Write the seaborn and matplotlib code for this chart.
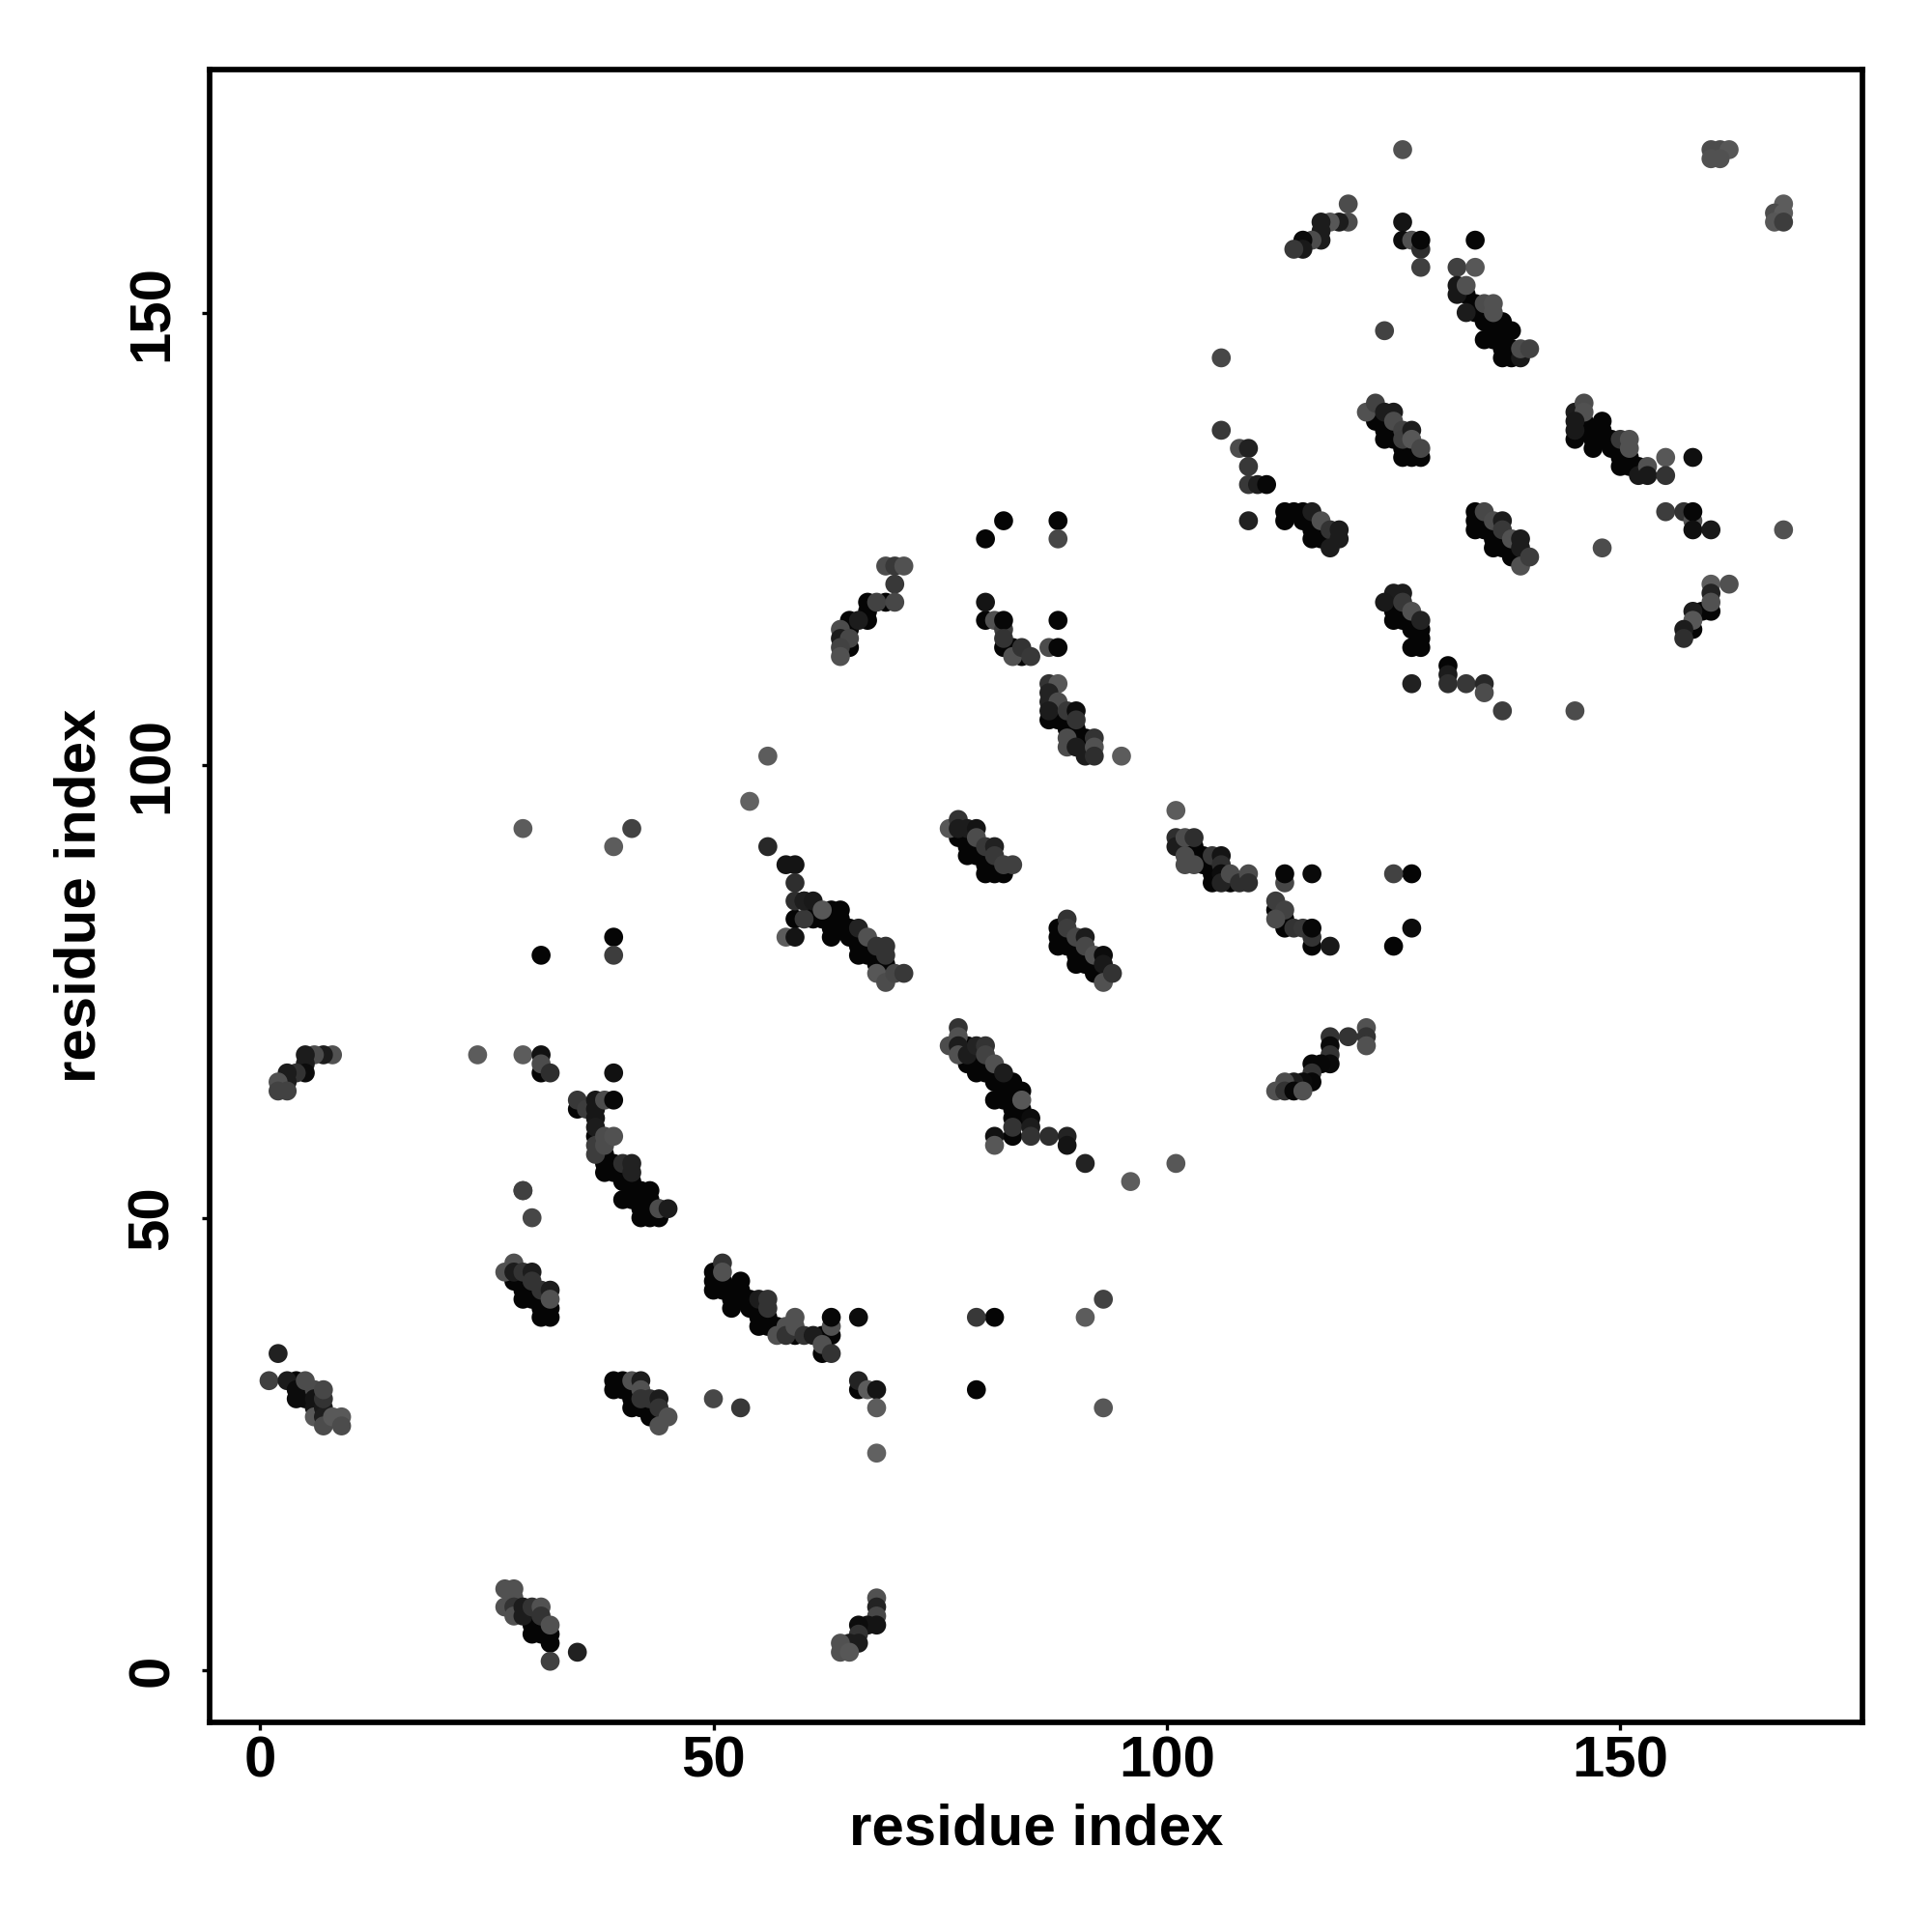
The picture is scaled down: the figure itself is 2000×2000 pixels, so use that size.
import matplotlib
matplotlib.use('Agg')
import matplotlib.pyplot as plt
import numpy as np
import pandas as pd
import seaborn as sns

# contact map, one line per group of contacts (same line layout in all three lists)
res_i = [
    1,2,3,4,4,4,5,5,5,6, 6,6,6,7,7,7,7,7,8,9, 9,
    27,28,28,28,29,30,29,29,29,30, 30,30,31,31,31,31,32,32,32,32, 30,29,
    39,40,41,42,39,40,41,42,41,42, 43,44,41,42,43,44,43,44,45,44,
    27,28,28,27,28,28,29,29,30,31, 30,30,30,31,31,31,32,32,32,32, 35,
    50,50,50,51,51,51,51,52,52,52, 53,53,53,54,54,55,55,55,55,56,
    56,56,56,57,57,58,58,59,59,59, 60,61,62,62,62,63,63,63,63,66,
    79,81,91,93,50,53,66,66,67,68, 68,68,79,93,
    68,68,68,68,67,66,66,66,65,64, 64,65,
    29,39,41,39,39,31,
    8,7,6,5,5,5,4,3,3,2, 2,3,
    24,29,31,31,31,32,39,
    35,35,36,37,37,37,37,37,37,37, 38,39,38,38,39,38,38,38,39,39,
    40,41,41,40,40,41,40,41,41,42, 43,42,44,45,42,43,44,44,42,43, 43,29,
    56,54,56,
    58,59,59,59,59,60,58,59,60,60, 61,61,61,62,62,63,63,63,64,64,
    64,65,65,66,66,66,66,67,67,67, 68,68,68,68,69,69,69,69,69,70, 71,
    76,77,77,77,78,78,78,78,79,79, 79,79,80,80,80,80,81,81,81,81, 82,82,83,
    88,88,88,89,89,89,89,90,90,90, 90,91,91,91,91,92,92,92,93,93, 93,93,94,
    76,77,77,77,77,78,78,78,79,79, 79,79,80,80,80,80,81,81,81,81,
    82,82,82,82,83,83,83,83,83,83, 83,84,84,84,84,85,85,85,81,81,
    87,89,89,91,96,101,
    69,70,71,70,67,68,69,70,67,67, 65,66,65,64,64,65,64,65,64,
    80,82,88,88,
    80,80,81,82,82,82,82,83,83,84, 84,85,87,88,88,
    87,88,87,87,88,87,87,88,89,90, 90,89,90,89,89,90,90,91,91,91,
    92,92,92,95,
    101,101,101,102,102,103,103,102,103,102, 103,104,104,105,106,105,106,105,105,106,
    106,107,107,108,109,109,
    113,113,116,125,127,127,125,
    112,113,112,112,113,113,114,115,116,116, 116,118,
    122,122,122,120,118,118,118,118,117,116, 116,116,115,114,113,112,113,114,115,
    106,106,108,109,109,109,110,111,109,
    113,113,114,115,115,116,116,117,116,116, 117,117,118,118,118,119,119,
    122,123,123,123,124,125,124,124,124,125, 125,125,126,126,126,126,127,127,127,127,
    128,128,
    134,134,134,135,135,135,136,136,136,136, 137,137,137,137,138,138,138,139,139,139,
    139,140,
    125,126,124,125,125,125,126,126,126,127, 127,127,128,128,128,128,127,127,
    131,131,131,133,135,135,137,
    145,146,146,145,145,145,146,146,147,147, 147,148,148,148,149,149,150,151,151,150,
    150,150,151,151,152,152,153,153,155,155, 158,
    155,157,158,158,158,160,168,148,145,
    160,162,160,160,160,159,158,158,158,157, 157,
    126,120,120,119,118,117,117,117,116,115, 115,114,
    126,126,127,128,128,128,134,132,134,
    132,132,133,133,133,134,134,135,136,136, 135,135,136,137,138,136,137,135,136,137,
    137,137,138,138,139,139,140,124,
    160,161,162,160,161,168,167,168,167,168,
]
res_j = [
    32,35,32,32,31,30,31,30,32,31, 30,29,28,29,28,27,30,31,28,28, 27,
    44,45,43,44,44,44,41,42,43,43, 42,41,42,39,40,41,42,41,40,39, 50,53,
    32,32,32,32,31,31,31,31,30,30, 30,30,29,29,29,29,28,28,28,27,
    9,9,8,7,7,6,7,6,7,7, 6,5,4,6,5,4,5,4,3,1, 2,
    44,43,42,45,44,43,42,42,41,40, 43,42,41,41,40,41,40,39,38,41,
    40,39,38,38,37,38,37,39,38,37, 37,37,37,36,35,38,39,37,35,39,
    39,39,39,41,30,29,32,31,31,31, 29,24,31,29,
    8,7,6,5,5,5,4,3,3,3, 2,2,
    93,91,93,81,79,79,
    68,68,68,68,67,66,66,66,65,65, 64,64,
    68,68,68,67,66,66,66,
    63,62,62,63,62,61,60,59,58,57, 63,63,59,58,59,57,56,55,56,55,
    56,56,55,55,54,54,52,53,52,53, 53,52,51,51,51,51,51,50,50,50, 52,53,
    101,96,91,
    89,89,87,85,83,85,81,81,83,85, 85,84,83,84,83,84,82,81,84,83,
    82,82,81,82,81,80,79,81,80,79, 80,79,78,77,80,79,78,77,76,77, 77,
    93,94,93,92,93,92,91,90,93,92, 91,90,91,90,89,88,91,90,89,88, 89,88,89,
    82,81,80,83,82,81,80,81,80,79, 78,81,80,79,78,79,78,77,79,78, 77,76,77,
    69,71,70,69,68,69,68,67,69,68, 67,66,69,68,67,66,67,66,65,63,
    66,65,64,63,65,64,63,62,61,60, 59,64,63,62,61,61,60,59,59,58,
    59,59,58,56,54,56,
    122,122,122,120,118,118,118,118,117,116, 116,116,115,115,114,114,113,113,112,
    125,127,127,125,
    118,116,116,115,116,114,113,113,112,113, 112,112,113,113,116,
    109,109,108,107,107,106,105,105,106,106, 105,104,104,103,102,103,102,102,103,101,
    103,102,101,101,
    95,92,91,92,91,92,91,90,90,89, 89,90,89,90,90,89,89,88,87,88,
    87,88,87,87,88,87,
    87,88,88,88,88,82,80,
    85,84,84,83,83,82,82,82,81,82, 80,80,
    71,70,69,70,70,69,68,67,67,67, 66,65,65,65,65,64,64,64,64,
    145,137,135,135,133,131,131,131,127,
    128,127,128,128,127,128,127,127,126,125, 126,125,126,125,124,126,125,
    139,140,139,138,139,139,138,137,136,138, 137,136,137,136,135,134,137,136,135,134,
    135,134,
    128,127,126,128,127,126,127,126,125,124, 127,126,125,124,125,124,123,125,124,123,
    122,123,
    119,119,118,118,117,116,118,117,116,117, 116,115,116,115,114,113,113,109,
    111,110,109,109,109,108,106,
    139,140,139,138,137,136,138,137,137,136, 135,138,137,136,136,135,136,136,135,135,
    134,133,134,133,133,132,133,132,134,132, 134,
    128,128,127,128,126,126,126,124,106,
    120,120,119,118,117,117,117,116,115,115, 114,
    168,162,160,160,160,160,159,158,158,158, 157,157,
    160,158,158,157,158,155,158,155,155,
    153,152,153,152,150,151,150,151,151,150, 150,149,149,149,148,148,148,147,147,147,
    146,145,146,145,145,146,146,148,
    168,168,168,167,167,162,161,161,160,160,
]
shade_pct = [
    25,13,11,2,5,5,5,5,30,30, 8,8,35,10,12,30,20,28,35,35, 30,
    32,32,2,11,20,11,2,2,2,20, 2,2,20,2,2,2,11,32,2,2, 28,25,
    2,2,32,11,2,2,2,32,2,20, 20,11,2,2,2,20,2,2,32,32,
    32,32,32,32,20,32,11,11,20,32, 2,2,2,20,2,2,32,2,2,25, 13,
    2,2,2,20,32,2,2,2,2,2, 2,2,2,2,2,11,2,2,2,20,
    20,2,2,2,32,32,20,32,32,2, 20,11,2,32,2,32,3,2,20,5,
    22,2,36,26,28,22,14,2,36,8, 36,38,2,34,
    32,14,28,8,8,5,20,11,11,32, 32,34,
    36,36,26,2,24,2,
    32,11,30,11,11,5,20,11,11,32, 26,26,
    36,36,7,30,2,18,7,
    22,2,24,9,9,9,11,2,24,24, 30,3,30,30,32,2,2,2,2,2,
    18,13,13,2,2,2,2,2,2,2, 2,2,30,11,2,2,2,2,2,2, 2,25,
    36,38,16,
    8,8,18,18,2,12,36,8,22,12, 10,2,2,34,2,2,2,2,2,2,
    2,2,2,14,2,2,2,32,2,2, 20,2,2,34,20,20,2,2,30,28, 22,
    34,20,11,2,11,2,2,2,8,30, 2,2,22,2,2,2,13,22,2,2, 25,2,25,
    2,2,2,20,24,2,2,28,2,2, 2,11,28,2,2,32,2,2,5,10, 2,32,20,
    30,20,32,11,32,2,11,2,14,2, 2,2,20,26,2,2,32,2,2,2,
    11,2,2,2,2,2,2,2,2,20, 2,2,34,2,2,5,11,20,7,34,
    18,14,8,14,36,34,
    30,22,32,22,2,26,2,28,2,2, 2,11,2,30,11,28,26,2,32,
    2,2,2,28,
    8,2,32,24,3,20,2,2,32,20, 2,22,30,3,2,
    20,34,14,14,30,11,2,2,22,5, 20,2,2,30,30,2,11,2,2,11,
    20,32,18,36,
    36,18,11,30,2,18,2,30,2,30, 30,2,2,22,8,2,18,2,2,5,
    14,30,2,18,30,18,
    28,3,4,26,2,5,2,
    24,26,2,30,2,2,20,22,20,3, 2,10,
    32,20,32,20,20,4,20,4,3,3, 20,3,4,11,30,32,20,3,32,
    28,22,30,13,22,22,12,3,13,
    2,2,2,2,2,12,2,32,2,2, 2,2,20,2,11,11,11,
    32,26,2,2,11,11,2,2,2,30, 2,2,26,25,2,2,11,34,2,2,
    28,2,
    2,2,2,28,2,2,30,2,2,2, 11,22,2,2,32,2,2,11,11,2,
    32,24,
    11,11,10,2,2,2,22,2,2,32, 2,2,14,2,2,2,2,13,
    2,11,18,22,16,30,24,
    11,30,32,10,10,2,2,2,2,2, 2,2,2,2,2,2,22,32,32,2,
    2,2,2,2,2,10,32,10,34,20, 6,
    24,20,32,3,6,10,32,30,30,
    36,32,14,32,2,2,11,34,2,11, 18,
    32,30,30,11,34,11,11,11,30,4, 10,22,
    8,5,32,18,3,25,3,25,34,
    9,9,32,2,11,2,2,30,32,32, 2,2,2,2,2,2,2,2,2,2,
    2,2,2,2,10,30,26,26,
    30,30,34,32,32,36,30,36,34,24,
]

# tick marks of both axes
tick_vals = [0, 50, 100, 150]

sns.set_theme(style='white')
plt.rcParams['font.family'] = ['Liberation Sans', 'DejaVu Sans']
plt.rcParams['font.weight'] = 'bold'

contacts = pd.DataFrame({'i': res_i, 'j': res_j, 'shade': shade_pct})
# near black ones lie underneath the rest
contacts = contacts.iloc[np.argsort(contacts['shade'] > 2, kind='stable')]

fig = plt.figure(figsize=(10, 10), dpi=200)
ax = fig.add_axes([217 / 2000, 217 / 2000, 1711 / 2000, 1711 / 2000])
sns.scatterplot(data=contacts, x='i', y='j', hue='shade', palette='gray', hue_norm=(0, 100),
                s=50, linewidth=0, legend=False, ax=ax)

ax.set_xlim(-5.55, 176.7)
ax.set_ylim(-5.75, 176.85)
ax.set_xticks(tick_vals)
ax.set_yticks(tick_vals)
ax.tick_params(axis='x', length=3, width=1.2, color='black', labelsize=21.6, labelcolor='black', pad=1.8, bottom=True)
ax.tick_params(axis='y', length=3, width=1.2, color='black', labelsize=21.6, labelcolor='black', pad=8.2, left=True)
for lab in ax.get_yticklabels():
    lab.set_rotation(90)
    lab.set_va('center')
for spine in ax.spines.values():
    spine.set_visible(True)
    spine.set_color('black')
    spine.set_linewidth(2.05)

ax.set_xlabel('residue index', fontsize=21.6, fontweight='bold', color='black', labelpad=5.5)
ax.set_ylabel('residue index', fontsize=21.6, fontweight='bold', color='black', labelpad=7.2)

fig.savefig('out.png', dpi=200)
